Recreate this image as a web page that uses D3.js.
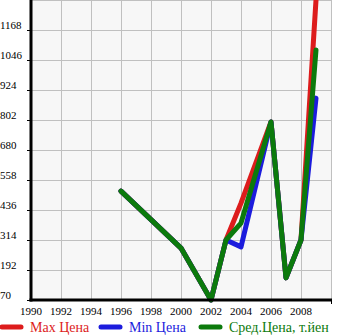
<!DOCTYPE html>
<html>
<head>
<meta charset="utf-8">
<script src="https://cdn.jsdelivr.net/npm/d3@7"></script>
<style>
  body { margin: 0; background: #fff; }
  svg { display: block; }
  text { font-family: "Liberation Serif", "DejaVu Serif", serif; }
</style>
</head>
<body>
<div id="chart"></div>
<script>
// data
const years = [1996, 2000, 2002, 2003, 2004, 2006, 2007, 2008, 2009];
const maxPrice = [513, 281, 70, 314, 464, 794, 160, 314, 1290];
const minPrice = [513, 281, 70, 314, 286, 794, 160, 314, 891];
const avgPrice = [513, 281, 70, 314, 383, 794, 160, 314, 1087];
const yTicks = [70, 192, 314, 436, 558, 680, 802, 924, 1046, 1168];
const xTicks = [1990, 1992, 1994, 1996, 1998, 2000, 2002, 2004, 2006, 2008];
const seriesNames = ["Max Цена", "Min Цена", "Сред.Цена, т.йен"];
const colors = ["#dd1c1c", "#1c1cdd", "#0c7a0c"];

const width = 345, height = 335;
const plotL = 31, plotR = 331, plotT = 0, plotB = 300;

const svg = d3.select("#chart").append("svg").attr("width", width).attr("height", height);

const x = d3.scaleLinear().domain([1990, 2010]).range([plotL, plotR]);
const y = d3.scaleLinear().domain([70, 1290]).range([plotB, plotT]);

svg.append("rect").attr("x", plotL).attr("y", plotT).attr("width", plotR - plotL).attr("height", plotB - plotT).attr("fill", "#f7f7f7");

// grid
const gridX = d3.range(1992, 2011, 2);
svg.append("g").selectAll("line").data(gridX).enter().append("line")
  .attr("x1", d => x(d) + 0.5).attr("x2", d => x(d) + 0.5)
  .attr("y1", plotT).attr("y2", plotB)
  .attr("stroke", "#c0c0c0").attr("stroke-width", 1);
const gridY = yTicks.slice(1).concat([1290]);
svg.append("g").selectAll("line").data(gridY).enter().append("line")
  .attr("x1", plotL).attr("x2", plotR)
  .attr("y1", d => Math.round(y(d)) + 0.5).attr("y2", d => Math.round(y(d)) + 0.5)
  .attr("stroke", "#c0c0c0").attr("stroke-width", 1);

// lines
svg.append("clipPath").attr("id", "clip").append("rect")
  .attr("x", plotL).attr("y", plotT).attr("width", plotR - plotL).attr("height", plotB - plotT + 3);
const line = d3.line().x((d, i) => x(years[i])).y(d => y(d));
[maxPrice, minPrice, avgPrice].forEach((s, k) => {
  svg.append("path").datum(s).attr("d", line)
    .attr("clip-path", "url(#clip)")
    .attr("fill", "none").attr("stroke", colors[k]).attr("stroke-width", 5)
    .attr("stroke-linejoin", "round").attr("stroke-linecap", "round");
});

// axes
svg.append("line").attr("x1", plotL).attr("x2", plotL).attr("y1", plotT).attr("y2", plotB + 1.5)
  .attr("stroke", "#000").attr("stroke-width", 3);
svg.append("line").attr("x1", plotL - 1.5).attr("x2", plotR + 1).attr("y1", plotB).attr("y2", plotB)
  .attr("stroke", "#000").attr("stroke-width", 3);

svg.append("g").selectAll("line").data(yTicks).enter().append("line")
  .attr("x1", plotL - 4).attr("x2", plotL)
  .attr("y1", d => Math.round(y(d)) + 0.5).attr("y2", d => Math.round(y(d)) + 0.5)
  .attr("stroke", "#000");
svg.append("line").attr("x1", plotR + 0.5).attr("x2", plotR + 0.5).attr("y1", plotB).attr("y2", plotB + 4)
  .attr("stroke", "#000");

svg.append("g").selectAll("text").data(yTicks).enter().append("text")
  .attr("x", 0).attr("y", d => y(d) - 1)
  .attr("font-size", 11).attr("fill", "#000").text(d => d);

svg.append("g").selectAll("text").data(xTicks).enter().append("text")
  .attr("x", d => x(d)).attr("y", 315).attr("text-anchor", "middle")
  .attr("font-size", 11).attr("fill", "#000").text(d => d);

// legend
const legendX = [0, 99, 199];
const lg = svg.append("g").selectAll("g").data(seriesNames).enter().append("g")
  .attr("transform", (d, i) => "translate(" + legendX[i] + ",327)");
lg.append("line").attr("x1", 2).attr("x2", 21).attr("y1", 0).attr("y2", 0)
  .attr("stroke", (d, i) => colors[i]).attr("stroke-width", 5).attr("stroke-linecap", "round");
lg.append("text").attr("x", 30).attr("y", 5).attr("font-size", 14)
  .attr("fill", (d, i) => colors[i]).text(d => d);
</script>
</body>
</html>
